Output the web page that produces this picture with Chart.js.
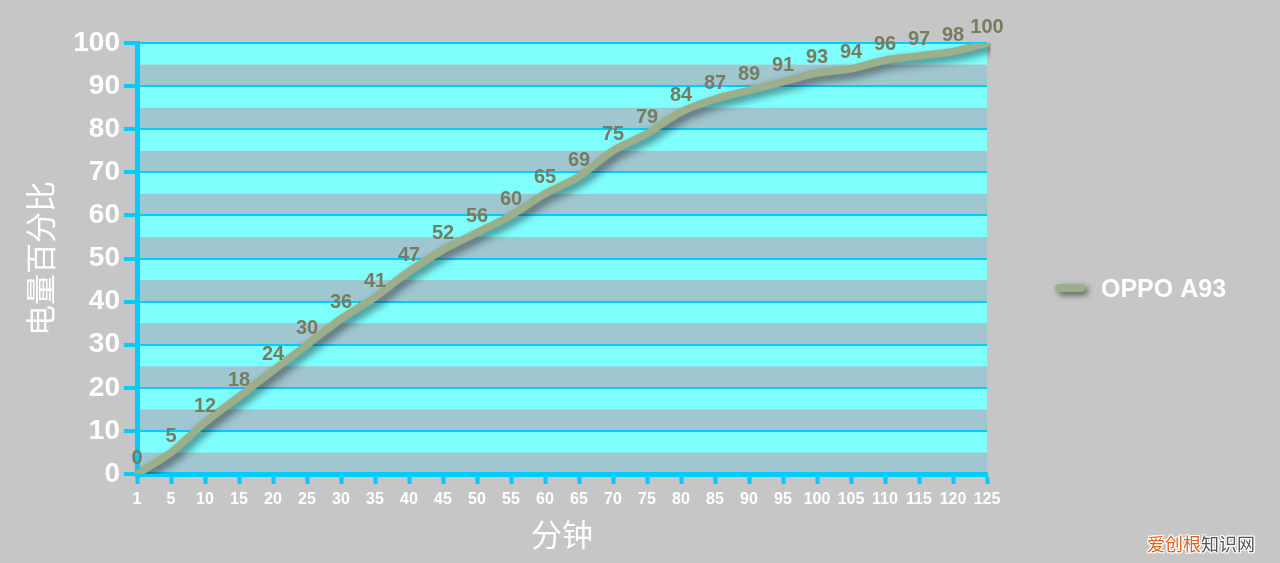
<!DOCTYPE html>
<html>
<head>
<meta charset="utf-8">
<script src="https://cdn.jsdelivr.net/npm/chart.js@4/dist/chart.umd.min.js"></script>
<style>
html,body{margin:0;padding:0;background:#c6c6c6;}
#wrap{position:relative;width:1280px;height:563px;}
#wm{position:absolute;left:1147px;top:530px;font:18px "Noto Sans CJK SC",sans-serif;
 text-shadow:1px 0 #fff,-1px 0 #fff,0 1px #fff,0 -1px #fff,1px 1px #fff,-1px -1px #fff,1px -1px #fff,-1px 1px #fff;}
#wm .o{color:#e0631c;} #wm .g{color:#555;}
</style>
</head>
<body>
<div id="wrap">
<canvas id="c" width="1280" height="563"></canvas>
<div id="wm"><span class="o">爱创根</span><span class="g">知识网</span></div>
</div>
<script>
const categories = ['1','5','10','15','20','25','30','35','40','45','50','55','60','65','70','75','80','85','90','95','100','105','110','115','120','125'];
const seriesName = 'OPPO A93';
const batteryValues = [0,5,12,18,24,30,36,41,47,52,56,60,65,69,75,79,84,87,89,91,93,94,96,97,98,100];
const yTickLabels = [0,10,20,30,40,50,60,70,80,90,100];
const xTitle = '分钟';
const yTitle = '电量百分比';

const lineColor = '#9cae8a';
const labelColor = '#767c62';
const axisColor = '#00ccff';

const bandsPlugin = {
  id: 'bands',
  beforeDraw(chart) {
    const {ctx, chartArea: a, scales: {y}} = chart;
    ctx.save();
    for (let v = 0; v < 100; v += 5) {
      const top = y.getPixelForValue(v + 5), bot = y.getPixelForValue(v);
      ctx.fillStyle = (v / 5) % 2 === 0 ? '#a0c6d0' : '#80ffff';
      ctx.fillRect(a.left, top, a.right - a.left, bot - top);
    }
    ctx.restore();
  }
};

const shadowPlugin = {
  id: 'lineShadow',
  beforeDatasetDraw(chart) {
    const ctx = chart.ctx;
    ctx.save();
    ctx.shadowColor = 'rgba(0,0,0,0.55)';
    ctx.shadowBlur = 8;
    ctx.shadowOffsetX = 4;
    ctx.shadowOffsetY = 4;
  },
  afterDatasetDraw(chart) {
    chart.ctx.restore();
  }
};

const labelsPlugin = {
  id: 'valueLabels',
  afterDatasetsDraw(chart) {
    const ctx = chart.ctx;
    const meta = chart.getDatasetMeta(0);
    ctx.save();
    ctx.font = 'bold 20px "Liberation Sans", Arial, sans-serif';
    ctx.fillStyle = labelColor;
    ctx.textAlign = 'center';
    ctx.textBaseline = 'middle';
    meta.data.forEach((pt, i) => {
      ctx.fillText(String(batteryValues[i]), pt.x, pt.y - 16);
    });
    ctx.restore();
  }
};

const legendPlugin = {
  id: 'customLegend',
  afterDraw(chart) {
    const ctx = chart.ctx;
    ctx.save();
    ctx.shadowColor = 'rgba(0,0,0,0.55)';
    ctx.shadowBlur = 6;
    ctx.shadowOffsetX = 3;
    ctx.shadowOffsetY = 3;
    ctx.strokeStyle = lineColor;
    ctx.lineWidth = 8;
    ctx.lineCap = 'round';
    ctx.beginPath();
    ctx.moveTo(1059, 288);
    ctx.lineTo(1081, 288);
    ctx.stroke();
    ctx.restore();
    ctx.save();
    ctx.font = 'bold 25px "Liberation Sans", Arial, sans-serif';
    ctx.fillStyle = '#ffffff';
    ctx.textBaseline = 'middle';
    ctx.fillText(seriesName, 1101, 290);
    ctx.restore();
  }
};

new Chart(document.getElementById('c'), {
  type: 'line',
  data: {
    labels: categories,
    datasets: [{
      label: seriesName,
      data: batteryValues,
      borderColor: lineColor,
      borderWidth: 7.5,
      borderCapStyle: 'round',
      borderJoinStyle: 'round',
      tension: 0.25,
      pointRadius: 0,
      pointHoverRadius: 0,
      fill: false
    }]
  },
  options: {
    responsive: false,
    animation: false,
    devicePixelRatio: 1,
    layout: { padding: { left: 0, top: 43, right: 293, bottom: 0 } },
    plugins: { legend: { display: false }, tooltip: { enabled: false } },
    scales: {
      x: {
        type: 'category',
        offset: false,
        afterFit(s) { s.height = 89; },
        border: { display: true, color: axisColor, width: 5 },
        grid: { drawOnChartArea: false, drawTicks: true, tickLength: 10, tickColor: axisColor, tickWidth: 4 },
        ticks: { autoSkip: false, maxRotation: 0, color: '#ffffff', padding: 6,
          font: { family: '"Liberation Sans", Arial, sans-serif', size: 16, weight: 'bold' } },
        title: { display: true, text: xTitle, color: '#ffffff', padding: { top: 0, bottom: 10 },
          font: { family: '"Noto Sans CJK SC", sans-serif', size: 31 } }
      },
      y: {
        min: 0, max: 100,
        afterFit(s) { s.width = 137; },
        afterBuildTicks(s) {
          const t = [];
          for (let v = 0; v <= 100; v += 5) t.push({ value: v });
          s.ticks = t;
        },
        border: { display: true, color: axisColor, width: 5 },
        grid: {
          color: axisColor, lineWidth: 2, drawTicks: true, tickLength: 13, tickWidth: 4,
          tickColor: (c) => (c.tick && yTickLabels.includes(c.tick.value)) ? axisColor : 'rgba(0,0,0,0)'
        },
        ticks: {
          color: '#ffffff', padding: 4,
          font: { family: '"Liberation Sans", Arial, sans-serif', size: 28, weight: 'bold' },
          callback: (v) => yTickLabels.includes(v) ? String(v) : ''
        },
        title: { display: true, text: yTitle, color: '#ffffff', padding: { top: 22, bottom: 0 },
          font: { family: '"Noto Sans CJK SC", sans-serif', size: 31 } }
      }
    }
  },
  plugins: [bandsPlugin, shadowPlugin, labelsPlugin, legendPlugin]
});
</script>
</body>
</html>
